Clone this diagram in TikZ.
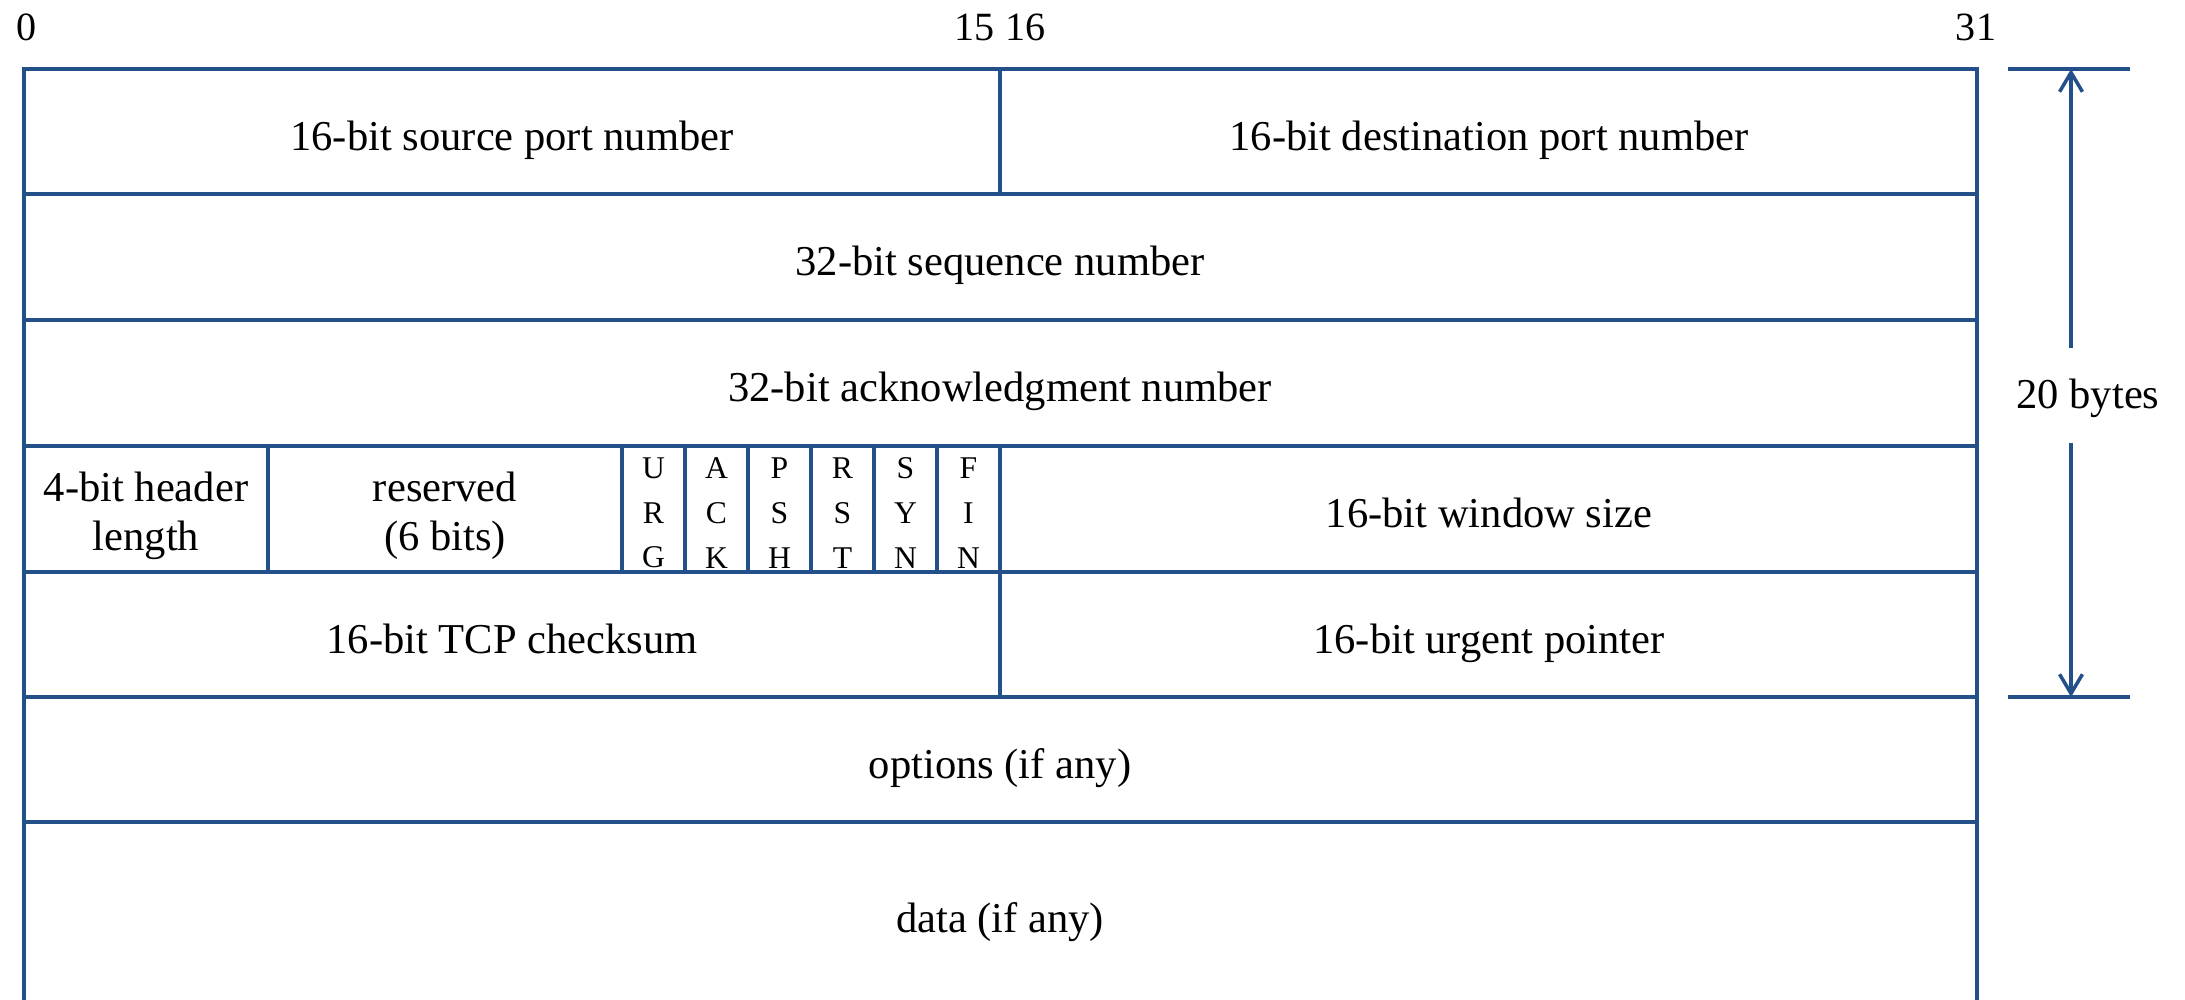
\documentclass[tikz,border=0pt]{standalone}
\usepackage{fontspec}
\setmainfont{Liberation Serif}
\usetikzlibrary{arrows.meta}
\definecolor{frameblue}{HTML}{24508A}
\begin{document}
\begin{tikzpicture}[x=0.01cm,y=-0.01cm,
  frame/.style={draw=frameblue,line width=1pt,line cap=rect},
  lbl/.style={font=\fontsize{12.1}{16.2}\selectfont,align=center,inner sep=0pt,anchor=base},
  toplbl/.style={font=\fontsize{11.4}{14}\selectfont,inner sep=0pt,anchor=base},
  two/.style={font=\fontsize{12.1}{13.9}\selectfont,align=center,inner sep=0pt},
  flag/.style={font=\fontsize{9}{12.7}\selectfont,align=center,inner sep=0pt},
  dim/.style={draw=frameblue,line width=1pt,-{Straight Barb[length=5.5pt,width=6.5pt,line width=1pt]}}]
\useasboundingbox (0,0) rectangle (2185,999);
% frame lines
\draw[frame] (24,999) -- (24,69) -- (1977,69) -- (1977,999);
\foreach \yy in {194,320,446,572,697,822} \draw[frame] (24,\yy) -- (1977,\yy);
\draw[frame] (1000,69) -- (1000,194);
\draw[frame] (1000,446) -- (1000,697);
\draw[frame] (268,446) -- (268,572);
\foreach \xx in {622,685,748,811,874,937} \draw[frame] (\xx,446) -- (\xx,572);
% bit labels
\node[toplbl] (b0) at (27,40) {0};
\node[toplbl] (b15) at (1000,40) {15 16};
\node[toplbl] (b31) at (1976,40) {31};
% fields
\node[lbl] (src) at (512,150) {16-bit source port number};
\node[lbl] (dst) at (1489,150) {16-bit destination port number};
\node[lbl] (seq) at (1000,275) {32-bit sequence number};
\node[lbl] (ack) at (1000,401) {32-bit acknowledgment number};
\node[two] (hlen) at (146,515.5) {4-bit header\\length};
\node[two] (res) at (445,515.5) {reserved\\(6 bits)};
\node[flag] (urg) at (653.5,513) {U\\R\\G};
\node[flag] (ackf) at (716.5,513) {A\\C\\K};
\node[flag] (psh) at (779.5,513) {P\\S\\H};
\node[flag] (rst) at (842.5,513) {R\\S\\T};
\node[flag] (syn) at (905.5,513) {S\\Y\\N};
\node[flag] (fin) at (968.5,513) {F\\I\\N};
\node[lbl] (win) at (1489,527) {16-bit window size};
\node[lbl] (chk) at (512,653) {16-bit TCP checksum};
\node[lbl] (urgp) at (1489,653) {16-bit urgent pointer};
\node[lbl] (opt) at (1000,778) {options (if any)};
\node[lbl] (data) at (1000,932) {data (if any)};
% 20 bytes dimension
\coordinate (dt) at (2071,69);
\coordinate (db) at (2071,697);
\draw[frame] (2010,69) -- (2128,69);
\draw[frame] (2010,697) -- (2128,697);
\node[lbl] (bytes) at (2088,408) {20 bytes};
\coordinate (gt) at (2071,348);
\coordinate (gb) at (2071,443);
\draw[dim] (gt) -- (dt);
\draw[dim] (gb) -- (db);
\end{tikzpicture}
\end{document}
